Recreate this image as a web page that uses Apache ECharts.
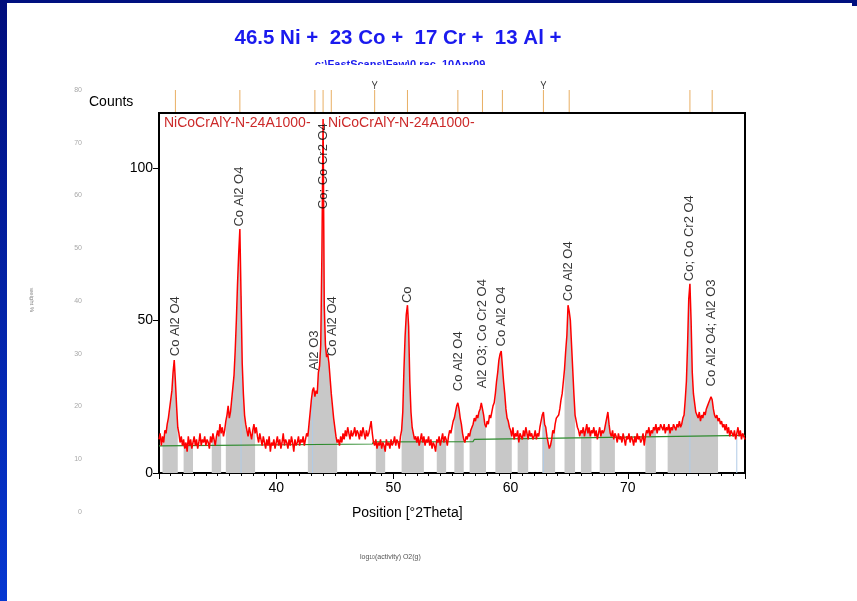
<!DOCTYPE html>
<html>
<head>
<meta charset="utf-8">
<script src="https://cdn.jsdelivr.net/npm/echarts@6/dist/echarts.min.js"></script>
<style>
html, body { margin: 0; padding: 0; background: #fff; }
#main { width: 857px; height: 601px; }
</style>
</head>
<body>
<div id="main"></div>
<script>
// scan: 30.0 .. 80.0 deg 2Theta, step 0.1
var startPos = 30.0, stepPos = 0.1;
var counts = [
    11, 13, 9, 12, 10, 14, 13, 16, 18, 21,
    24, 27, 33, 37, 30, 22, 15, 13, 10, 12,
    9, 11, 8, 10, 7, 12, 9, 11, 8, 10,
    12, 9, 11, 8, 10, 13, 9, 11, 10, 12,
    9, 11, 10, 8, 12, 10, 13, 11, 9, 12,
    14, 12, 16, 13, 15, 12, 14, 17, 19, 22,
    18, 20, 24, 28, 32, 40, 50, 62, 72, 80,
    58, 36, 26, 19, 16, 14, 12, 15, 13, 11,
    14, 16, 13, 15, 12, 10, 13, 11, 9, 12,
    10, 8, 11, 9, 12, 7, 10, 9, 11, 8,
    10, 12, 9, 11, 8, 10, 13, 9, 11, 10,
    8, 11, 9, 12, 10, 7, 11, 9, 10, 12,
    9, 11, 10, 12, 9, 11, 13, 12, 16, 20,
    24, 27, 28, 25, 27, 26, 33, 35, 42, 72,
    116, 55, 42, 38, 39, 36, 31, 26, 22, 18,
    15, 12, 10, 11, 9, 12, 10, 13, 11, 14,
    12, 15, 13, 11, 14, 12, 13, 15, 12, 14,
    13, 11, 14, 12, 15, 13, 11, 14, 12, 13,
    15, 17, 13, 10, 9, 11, 8, 10, 9, 11,
    8, 10, 9, 7, 11, 9, 10, 8, 11, 9,
    10, 12, 9, 11, 10, 8, 12, 14, 20, 34,
    45, 52, 55, 48, 30, 20, 15, 13, 11, 12,
    10, 12, 9, 11, 13, 10, 12, 9, 11, 10,
    12, 9, 11, 8, 10, 9, 7, 11, 10, 12,
    9, 11, 13, 10, 12, 11, 9, 12, 14, 13,
    15, 17, 18, 20, 22, 23, 21, 18, 16, 13,
    11, 10, 12, 11, 13, 12, 14, 15, 16, 18,
    17, 19, 18, 20, 21, 23, 21, 19, 16, 15,
    17, 16, 19, 18, 20, 22, 23, 26, 30, 33,
    37, 39, 40, 35, 30, 26, 21, 18, 17, 15,
    14, 12, 15, 11, 13, 12, 14, 10, 13, 12,
    11, 14, 12, 15, 13, 11, 14, 12, 13, 11,
    12, 14, 11, 13, 12, 15, 17, 19, 20, 16,
    15, 12, 10, 8, 9, 11, 14, 13, 16, 18,
    18, 19, 21, 24, 26, 30, 34, 40, 45, 55,
    53, 50, 42, 34, 26, 19, 17, 15, 14, 12,
    14, 13, 15, 12, 14, 16, 13, 15, 12, 14,
    13, 15, 12, 14, 11, 13, 15, 12, 14, 13,
    14, 16, 18, 20, 16, 13, 12, 14, 11, 13,
    12, 10, 13, 11, 12, 10, 13, 11, 9, 12,
    11, 13, 10, 12, 11, 9, 12, 10, 13, 11,
    12, 10, 11, 13, 9, 12, 14, 13, 15, 12,
    14, 13, 15, 14, 16, 13, 15, 14, 16, 15,
    14, 16, 13, 15, 14, 16, 13, 15, 14, 16,
    15, 14, 16, 15, 17, 15, 16, 18, 19, 24,
    30, 42, 57, 62, 50, 33, 26, 23, 20, 19,
    18, 20, 17, 19, 18, 20, 19, 21, 22, 23,
    24, 25, 24, 21, 19, 18, 19, 17, 18, 16,
    17, 15, 16, 14, 16, 13, 15, 12, 14, 13,
    12, 14, 11, 13, 15, 12, 14, 11, 13, 12,
    11
];

// background line
var bgPos = [30, 48.2, 48.3, 56.8, 56.9, 80];
var bgCounts = [8.9, 9.5, 10.2, 10.3, 11.0, 12.3];

// shaded peak regions
var peakRanges = [
    [30.3, 31.6], [32.1, 32.9], [34.5, 35.3], [35.7, 38.2], [42.7, 45.2],
    [48.5, 49.3], [50.7, 52.6], [53.7, 54.5], [55.2, 56.0], [56.5, 57.9],
    [58.7, 60.1], [60.6, 61.5], [62.7, 63.8], [64.6, 65.5], [66.0, 66.9],
    [67.6, 68.9], [71.5, 72.4], [73.4, 77.7]
];

// thin blue markers
var bluePos = [37.0, 43.1, 62.8, 75.3, 79.3];

// reference pattern sticks above the plot
var refPos = [31.4, 36.9, 43.3, 44.0, 44.7, 48.4, 51.2, 55.5, 57.6, 59.3, 62.8, 65.0, 75.3, 77.2];
var refMarkPos = [48.4, 62.8];

// phase labels
var labelPos = [31.4, 36.9, 43.25, 44.0, 44.78, 51.18, 55.53, 57.6, 59.2, 64.96, 75.25, 77.1];
var labelCounts = [37.8, 80.3, 33.2, 86, 37.8, 55.2, 26.3, 27.3, 41, 55.8, 62.4, 27.9];
var labelText = ['Co Al2 O4', 'Co Al2 O4', 'Al2 O3', 'Co; Co Cr2 O4', 'Co Al2 O4', 'Co',
    'Co Al2 O4', 'Al2 O3; Co Cr2 O4', 'Co Al2 O4', 'Co Al2 O4', 'Co; Co Cr2 O4', 'Co Al2 O4; Al2 O3'];

var countTicks = [0, 50, 100];
var sideTicks = [0, 80];

var posOf = function (i) { return +(startPos + i * stepPos).toFixed(1); };
var countAt = function (x) { return counts[Math.round((x - startPos) / stepPos)]; };

var lineData = counts.map(function (v, i) { return [posOf(i), v]; });
var shadeData = counts.map(function (v, i) {
    var x = posOf(i);
    var inside = peakRanges.some(function (r) { return x >= r[0] - 1e-6 && x <= r[1] + 1e-6; });
    return [x, inside ? v : null];
});
var bgData = bgPos.map(function (x, i) { return [x, bgCounts[i]]; });

var FONT = 'Liberation Sans, Arial, sans-serif';

var series = [
    {
        name: 'shade', type: 'line', xAxisIndex: 0, yAxisIndex: 0,
        data: shadeData, showSymbol: false, connectNulls: false,
        lineStyle: { width: 0 }, areaStyle: { color: '#c8c8c8', opacity: 1 }, z: 2
    }
];
bluePos.forEach(function (x) {
    series.push({
        type: 'line', xAxisIndex: 0, yAxisIndex: 0, showSymbol: false,
        data: [[x, 0], [x, countAt(x)]],
        lineStyle: { color: '#b0cbe6', width: 1 }, z: 3
    });
});
series.push(
    {
        name: 'background', type: 'line', xAxisIndex: 0, yAxisIndex: 0,
        data: bgData, showSymbol: false,
        lineStyle: { color: '#2e8b2e', width: 1.2 }, z: 4
    },
    {
        name: 'counts', type: 'line', xAxisIndex: 0, yAxisIndex: 0,
        data: lineData, showSymbol: false,
        lineStyle: { color: '#ff0000', width: 1.5 }, z: 5
    },
    {
        name: 'labels', type: 'scatter', xAxisIndex: 0, yAxisIndex: 0,
        data: labelPos.map(function (x, i) { return [x, labelCounts[i], labelText[i]]; }),
        symbolSize: 1, itemStyle: { color: 'rgba(0,0,0,0)' }, z: 6,
        label: {
            show: true, position: 'top', distance: 1, rotate: 90,
            align: 'left', verticalAlign: 'middle',
            color: '#000', fontSize: 13, fontFamily: FONT,
            formatter: function (p) { return p.value[2]; }
        }
    },
    {
        name: 'ref', type: 'scatter', xAxisIndex: 1, yAxisIndex: 1, clip: false,
        data: refPos.map(function (x) { return [x, 3.4]; }),
        symbol: 'rect', symbolSize: [1, 22], itemStyle: { color: '#e29a3c' }
    },
    {
        name: 'refmark', type: 'scatter', xAxisIndex: 1, yAxisIndex: 1, clip: false,
        data: refMarkPos.map(function (x) { return [x, 8.4]; }),
        symbol: 'path://M0,0L4,7L8,0M4,7L4,12', symbolSize: [5, 8],
        itemStyle: { color: 'none', borderColor: '#000', borderWidth: 1 }
    }
);

var chart = echarts.init(document.getElementById('main'), null, { renderer: 'canvas' });
chart.setOption({
    backgroundColor: '#fff',
    animation: false,
    textStyle: { fontFamily: FONT },
    grid: [
        { left: 159, right: 112, top: 113, bottom: 128, show: true, borderColor: '#000', borderWidth: 2 },
        { left: 159, right: 112, top: 80, height: 32 },
        { left: 84, width: 1, top: 90, bottom: 89 }
    ],
    xAxis: [
        {
            gridIndex: 0, type: 'value', min: 30, max: 80, interval: 10,
            axisLine: { lineStyle: { color: '#000', width: 2 } },
            axisTick: { length: 6, lineStyle: { color: '#000' } },
            minorTick: { show: true, splitNumber: 10, length: 3, lineStyle: { color: '#000' } },
            axisLabel: { showMinLabel: false, showMaxLabel: false, color: '#000', fontSize: 14, margin: 8 },
            splitLine: { show: false }
        },
        { gridIndex: 1, type: 'value', min: 30, max: 80, show: false },
        { gridIndex: 2, type: 'value', min: 0, max: 1, show: false }
    ],
    yAxis: [
        {
            gridIndex: 0, type: 'value', min: 0, max: 118, interval: 50,
            axisLine: { show: true, lineStyle: { color: '#000', width: 2 } },
            axisTick: { show: true, length: 6, customValues: countTicks, lineStyle: { color: '#000' } },
            axisLabel: {
                color: '#000', fontSize: 14, margin: 6, customValues: countTicks,
                formatter: function (v) { return countTicks.indexOf(v) >= 0 ? String(v) : ''; }
            },
            splitLine: { show: false }
        },
        { gridIndex: 1, type: 'value', min: 0, max: 10, show: false },
        {
            gridIndex: 2, type: 'value', min: sideTicks[0], max: sideTicks[1], interval: 10,
            axisLine: { show: false }, axisTick: { show: false }, splitLine: { show: false },
            axisLabel: { color: '#a8a8a8', fontSize: 7, margin: 2 }
        }
    ],
    graphic: [
        { type: 'rect', shape: { x: 0, y: 0, width: 857, height: 3 }, style: { fill: '#00107f' } },
        { type: 'rect', shape: { x: 852, y: 0, width: 5, height: 6 }, style: { fill: '#00107f' } },
        {
            type: 'rect', shape: { x: 0, y: 0, width: 7, height: 601 },
            style: {
                fill: new echarts.graphic.LinearGradient(0, 0, 0, 1, [
                    { offset: 0, color: '#000d7c' }, { offset: 1, color: '#0638d2' }
                ])
            }
        },
        {
            type: 'text', x: 398, y: 38,
            style: {
                text: '46.5 Ni +  23 Co +  17 Cr +  13 Al +', fill: '#1a1aee',
                font: 'bold 20.5px ' + FONT, textAlign: 'center', textVerticalAlign: 'middle'
            }
        },
        {
            type: 'text', x: 400, y: 65,
            style: {
                text: 'c:\\FastScans\\Faw\\0.rac  10Apr09', fill: '#1a1aee',
                font: 'bold 11px ' + FONT, textAlign: 'center', textVerticalAlign: 'middle'
            }
        },
        { type: 'rect', shape: { x: 280, y: 65, width: 240, height: 10 }, style: { fill: '#fff' } },
        {
            type: 'text', x: 89, y: 102,
            style: { text: 'Counts', fill: '#000', font: '14px ' + FONT, textVerticalAlign: 'middle' }
        },
        {
            type: 'text', x: 164, y: 123, z: 10,
            style: { text: 'NiCoCrAlY-N-24A1000-', fill: '#cc2a2a', font: '14px ' + FONT, textVerticalAlign: 'middle' }
        },
        {
            type: 'text', x: 328, y: 123, z: 10,
            style: { text: 'NiCoCrAlY-N-24A1000-', fill: '#cc2a2a', font: '14px ' + FONT, textVerticalAlign: 'middle' }
        },
        {
            type: 'text', x: 352, y: 513,
            style: { text: 'Position [°2Theta]', fill: '#000', font: '14px ' + FONT, textVerticalAlign: 'middle' }
        },
        {
            type: 'text', x: 32, y: 300, rotation: -Math.PI / 2,
            style: { text: 'weight %', fill: '#888', font: '6px ' + FONT, textAlign: 'center', textVerticalAlign: 'middle' }
        },
        {
            type: 'text', x: 360, y: 557,
            style: {
                text: 'log{s|10}(activity) O2(g)', fill: '#555', font: '7px ' + FONT, textVerticalAlign: 'middle',
                rich: { s: { fontSize: 5, verticalAlign: 'bottom', fill: '#555' } }
            }
        }
    ],
    series: series
});
</script>
</body>
</html>
